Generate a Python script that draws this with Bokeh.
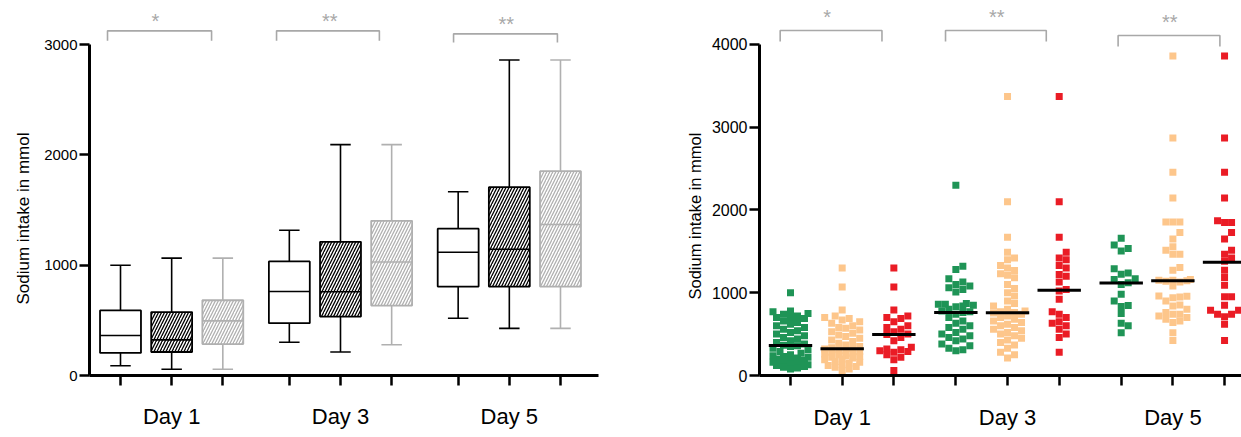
import numpy as np
from bokeh.plotting import figure
from bokeh.layouts import row
from bokeh.models import FixedTicker, Range1d, Title
from bokeh.embed import file_html
from bokeh.resources import INLINE
from bokeh.core.properties import value

days = ["Day 1", "Day 3", "Day 5"]
stars = ["*", "**", "**"]
y_title = "Sodium intake in mmol"

# ---- Box plot statistics (left panel), per day ----
white_low = [89, 302, 519]
white_q1 = [205, 474, 806]
white_med = [362, 762, 1117]
white_q3 = [590, 1034, 1331]
white_high = [1000, 1316, 1666]

black_low = [56, 213, 427]
black_q1 = [213, 534, 806]
black_med = [323, 759, 1144]
black_q3 = [575, 1212, 1707]
black_high = [1064, 2093, 2860]

grey_low = [56, 279, 427]
grey_q1 = [285, 634, 806]
grey_med = [495, 1029, 1369]
grey_q3 = [682, 1402, 1852]
grey_high = [1064, 2093, 2860]

# ---- Individual values (right panel) ----
green_day1 = [1000, 780, 770, 750, 740, 720, 700, 700, 690, 660, 640, 620, 600, 580, 560, 540,
              520, 500, 480, 460, 440, 420, 400, 380, 365, 360, 350, 330, 310, 290, 270, 250,
              240, 230, 220, 210, 200, 190, 180, 170, 160, 150, 140, 130, 120, 110, 100, 90, 80]
orange_day1 = [1300, 1070, 790, 720, 700, 690, 670, 650, 630, 600, 580, 570, 550, 530, 510, 490,
               470, 450, 430, 410, 390, 370, 350, 335, 325, 320, 310, 300, 290, 280, 270, 260,
               250, 240, 230, 220, 210, 200, 190, 170, 160, 150, 130, 120, 110, 100, 80, 60]
red_day1 = [1300, 1070, 790, 720, 700, 690, 650, 600, 580, 560, 530, 500, 495, 460, 420, 340,
            320, 310, 300, 290, 280, 250, 220, 190, 60]

green_day3 = [2300, 1320, 1280, 1170, 1130, 1100, 1080, 1060, 1040, 1010, 870, 860, 860, 850,
              840, 830, 800, 780, 770, 760, 740, 700, 660, 630, 600, 580, 560, 520, 500, 480,
              460, 440, 420, 380, 360, 330, 310, 300]
orange_day3 = [3370, 2100, 1670, 1490, 1420, 1400, 1330, 1300, 1270, 1230, 1210, 1180, 1100, 1050,
               1000, 960, 900, 870, 840, 800, 780, 770, 760, 755, 740, 720, 700, 680, 660, 640,
               620, 600, 580, 560, 540, 520, 500, 480, 450, 430, 400, 370, 330, 280, 250, 210]
red_day3 = [3370, 2100, 1670, 1490, 1420, 1400, 1330, 1300, 1220, 1200, 1130, 1040, 1020, 920,
            770, 740, 700, 650, 630, 600, 560, 500, 460, 280]

green_day5 = [1660, 1576, 1535, 1503, 1290, 1240, 1224, 1170, 1160, 1120, 1100, 982, 900, 845,
              835, 750, 630, 600, 516]
orange_day5 = [3860, 2870, 2456, 2145, 1855, 1855, 1855, 1728, 1648, 1555, 1515, 1466, 1466, 1304,
               1272, 1160, 1151, 1150, 1145, 1140, 1130, 1083, 960, 957, 950, 940, 900, 852, 840,
               800, 760, 740, 739, 720, 700, 680, 658, 640, 516, 424]
red_day5 = [3860, 2870, 2456, 2145, 1870, 1850, 1850, 1728, 1648, 1515, 1466, 1420, 1380, 1272,
            1183, 1091, 953, 953, 848, 788, 788, 739, 739, 710, 618, 424]

green_med = [362, 762, 1117]
orange_med = [323, 759, 1144]
red_med = [495, 1029, 1369]

FONT = "Liberation Sans"
GREY = "#b0b0b0"
BRACKET = "#a8a8a8"


def style_axes(p, ticks, centers, label_std_x, tick_font):
    p.xgrid.visible = False
    p.ygrid.visible = False
    p.outline_line_color = None
    for ax in (p.xaxis, p.yaxis):
        ax.axis_line_width = 3
        ax.axis_line_color = "black"
        ax.major_tick_line_width = 2.5
        ax.major_tick_line_color = "black"
        ax.minor_tick_line_color = None
        ax.major_tick_in = 0
        ax.major_tick_out = 10
        ax.major_label_text_font = FONT
        ax.major_label_text_color = "black"
    p.xaxis.ticker = FixedTicker(ticks=ticks)
    p.xaxis.major_label_overrides = {t: "" for t in ticks}
    for t, d in zip(centers, days):
        p.xaxis.major_label_overrides[t] = d
    p.xaxis.major_label_text_font_size = "22px"
    p.xaxis.major_label_standoff = label_std_x
    p.yaxis.major_label_standoff = 2
    p.yaxis.major_label_text_font_size = tick_font
    p.background_fill_color = "white"
    p.border_fill_color = "white"


def y_label(p, size, offset, standoff):
    p.add_layout(Title(text=y_title, align="left", offset=offset, standoff=standoff,
                       text_font=FONT, text_font_size=size, text_font_style="normal",
                       text_color="black"), "left")


def brackets(p, x0s, x1s, y_top, y_leg, star_x, star_y):
    p.multi_line(xs=[[a, a, b, b] for a, b in zip(x0s, x1s)],
                 ys=[[l, t, t, l] for t, l in zip(y_top, y_leg)],
                 line_color=BRACKET, line_width=1.6)
    p.text(x=star_x, y=star_y, text=stars, text_font=value(FONT), text_font_size="20px",
           text_color=BRACKET, text_align="center", text_baseline="middle")


# ================= LEFT: box plots =================
pos_left = [[10 + g * 33 + s * 10 for s in range(3)] for g in range(3)]
ticks_left = [x for g in pos_left for x in g]
p1 = figure(width=620, height=437, x_range=Range1d(3.94, 103.43), y_range=Range1d(0, 3354),
            output_backend="svg", toolbar_location=None,
            min_border_left=89, min_border_right=22, min_border_top=5, min_border_bottom=53)
style_axes(p1, ticks_left, [g[1] for g in pos_left], 18, "15px")
p1.yaxis.ticker = FixedTicker(ticks=[0, 1000, 2000, 3000])
p1.yaxis.bounds = (0, 3000)
y_label(p1, "17px", 71, 17)

series = [
    (white_low, white_q1, white_med, white_q3, white_high, "black", None, "black"),
    (black_low, black_q1, black_med, black_q3, black_high, "black", "/", "black"),
    (grey_low, grey_q1, grey_med, grey_q3, grey_high, GREY, "/", GREY),
]
hw, cw = 4.0, 2.0
for s, (lo, q1, md, q3, hi, col, hatch, hcol) in enumerate(series):
    xs = [pos_left[g][s] for g in range(3)]
    p1.segment(x0=xs, y0=q3, x1=xs, y1=hi, line_color=col, line_width=1.6)
    p1.segment(x0=xs, y0=lo, x1=xs, y1=q1, line_color=col, line_width=1.6)
    p1.segment(x0=[x - cw for x in xs], y0=hi, x1=[x + cw for x in xs], y1=hi,
               line_color=col, line_width=1.6)
    p1.segment(x0=[x - cw for x in xs], y0=lo, x1=[x + cw for x in xs], y1=lo,
               line_color=col, line_width=1.6)
    kw = dict(left=[x - hw for x in xs], right=[x + hw for x in xs], bottom=q1, top=q3,
              fill_color="white", line_color=col, line_width=1.8)
    if hatch:
        kw.update(hatch_pattern=hatch, hatch_color=hcol, hatch_scale=6, hatch_weight=1.3)
    p1.quad(**kw)
    p1.segment(x0=[x - hw for x in xs], y0=md, x1=[x + hw for x in xs], y1=md,
               line_color=col, line_width=1.6)

brackets(p1, [7.46, 40.5, 75.1], [27.8, 60.6, 95.4], [3124, 3124, 3097], [3035, 3035, 3018],
         [16.8, 50.9, 85.4], [3215, 3215, 3190])

# ================= RIGHT: scatter =================
pos_right = [[10 + g * 32 + s * 10 for s in range(3)] for g in range(3)]
ticks_right = [x for g in pos_right for x in g]
xr0, xr1 = 4.0, 97.28
yr1 = 4471
p2 = figure(width=621, height=437, x_range=Range1d(xr0, xr1), y_range=Range1d(0, yr1),
            output_backend="svg", toolbar_location=None,
            min_border_left=139, min_border_right=0, min_border_top=5, min_border_bottom=62)
style_axes(p2, ticks_right, [g[1] for g in pos_right], 19, "16px")
p2.yaxis.ticker = FixedTicker(ticks=[0, 1000, 2000, 3000, 4000])
p2.yaxis.bounds = (0, 4000)
y_label(p2, "16.5px", 76, 9)

PX_X = 482.0 / (xr1 - xr0)
PX_Y = 370.0 / yr1
MS = 7.0
HALF = 18.0


def swarm(vals, xc):
    vals = np.asarray(vals, dtype=float)
    order = np.argsort(vals)
    placed = []
    out = np.zeros(len(vals))
    cands = [0.0]
    k = 1
    while k * MS * 0.5 <= HALF:
        cands += [k * MS * 0.5, -k * MS * 0.5]
        k += 1
    for i in order:
        yp = vals[i] * PX_Y
        best, best_ov = None, None
        for c in cands:
            ov = 0.0
            for (px, py) in placed:
                dx, dy = abs(px - c), abs(py - yp)
                if dx < MS and dy < MS:
                    ov += (MS - dx) * (MS - dy)
            if ov == 0:
                best = c
                break
            if best_ov is None or ov < best_ov:
                best, best_ov = c, ov
        placed.append((best, yp))
        out[i] = xc + best / PX_X
    return out


groups = [
    (green_day1, green_day3, green_day5, green_med, "#1f9456"),
    (orange_day1, orange_day3, orange_day5, orange_med, "#fdc68b"),
    (red_day1, red_day3, red_day5, red_med, "#ea1c25"),
]
for s, (d1, d3, d5, med, col) in enumerate(groups):
    for g, vals in enumerate([d1, d3, d5]):
        xc = pos_right[g][s]
        p2.scatter(x=swarm(vals, xc), y=vals, marker="square", size=MS, fill_color=col,
                   line_color=None)
    xs = [pos_right[g][s] for g in range(3)]
    p2.segment(x0=[x - 4.2 for x in xs], y0=med, x1=[x + 4.2 for x in xs], y1=med,
               line_color="black", line_width=3)

brackets(p2, [8.0, 40.0, 73.4], [27.7, 59.5, 93.1], [4169, 4169, 4109], [4036, 4036, 3976],
         [17.1, 49.9, 83.4], [4330, 4330, 4270])

layout = row(p1, p2)
open("out.html", "w").write(file_html(layout, INLINE))
